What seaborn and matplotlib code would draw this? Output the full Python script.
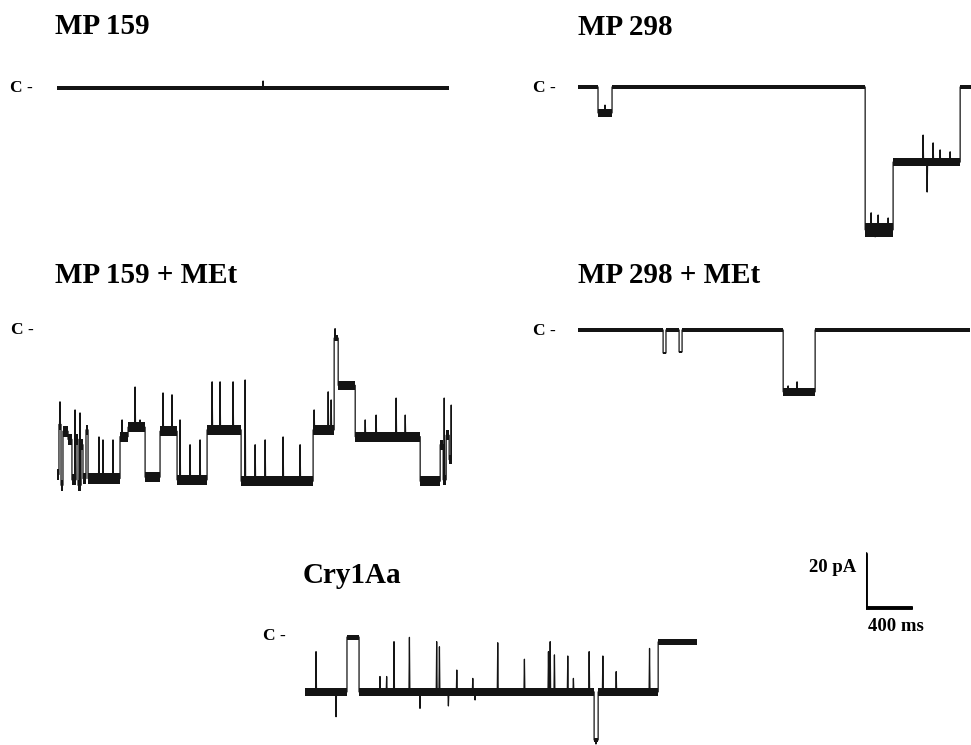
import numpy as np
import pandas as pd
import matplotlib
matplotlib.use("Agg")
import matplotlib.pyplot as plt
import seaborn as sns

sns.set_theme(style="white")
plt.rcParams["font.family"] = ["Liberation Serif", "DejaVu Serif"]
plt.rcParams["text.color"] = "black"

# ---------------- data (time in ms from trace start, current in pA; C = closed = 0) ----------------
trace_names = ["MP 159", "MP 298", "MP 159 + MEt", "MP 298 + MEt", "Cry1Aa"]

# MP 159
mp159_step_t = [0]
mp159_step_i = [0.0]
mp159_noise = [0.8]
mp159_end = 3410
mp159_spike_t = [1792]
mp159_spike_i = [2.6]

# MP 298
mp298_step_t = [0, 174, 296, 2497, 2740, 3323]
mp298_step_i = [0.0, -9.6, 0.0, -52.9, -27.8, 0.0]
mp298_noise = [0.6, 1.5, 0.6, 2.5, 1.5, 0.6]
mp298_end = 3415
mp298_spike_t = [235, 2549, 2584, 2610, 2697, 3001, 3036, 3088, 3149, 3236]
mp298_spike_i = [-6.7, -46.6, -55.5, -47.4, -48.5, -17.8, -38.9, -20.7, -23.3, -24.0]

# MP 159 + MEt
met159_step_t = [0, 17, 35, 52, 96, 130, 165, 183, 209, 226, 252, 270, 548, 618, 766, 896,
                 1044, 1305, 1601, 2227, 2410, 2445, 2593, 3158, 3332, 3358, 3384, 3410]
met159_step_i = [-53.5, -35, -57.5, -37.5, -40.5, -55.5, -40.5, -57.5, -42.5, -55, -37, -55,
                 -39.5, -36, -54.5, -37.5, -55.5, -37, -56, -37, -3, -20.5, -39.5, -56,
                 -42.5, -55.5, -39, -48]
met159_noise = [2.0, 2.0, 2.0, 2.0, 2.0, 2.0, 2.0, 2.0, 2.0, 2.0, 2.0, 2.0, 1.8, 1.8, 1.8,
                1.8, 1.8, 1.8, 1.8, 1.8, 1.0, 1.6, 1.8, 1.8, 1.8, 1.8, 1.8, 1.8]
met159_end = 3436
met159_spike_t = [26, 157, 200, 365, 400, 487, 566, 679, 722, 922, 1000, 1070, 1157, 1244,
                  1349, 1418, 1531, 1636, 1723, 1810, 1966, 2114, 2236, 2358, 2384, 2418,
                  2680, 2775, 2949, 3028, 3367, 3428]
met159_spike_i = [-26.6, -29.6, -30.7, -39.6, -40.7, -40.7, -33.3, -21.1, -33.3, -23.3, -24.0,
                  -33.3, -42.5, -40.7, -19.2, -19.2, -19.2, -18.5, -42.5, -40.7, -39.6, -42.5,
                  -29.6, -22.9, -25.9, 0.5, -33.3, -31.5, -25.2, -31.5, -25.2, -27.8]

# MP 298 + MEt
met298_step_t = [0, 740, 765, 879, 905, 1784, 2062]
met298_step_i = [0.0, -8.5, 0.0, -8.1, 0.0, -22.9, 0.0]
met298_noise = [0.6, 0.5, 0.6, 0.5, 0.6, 1.5, 0.6]
met298_end = 3410
met298_spike_t = [1827, 1905]
met298_spike_i = [-20.7, -19.2]

# Cry1Aa
cry_step_t = [0, 365, 470, 2514, 2549, 3071]
cry_step_i = [-20.7, -0.4, -20.7, -38.5, -20.7, -2.2]
cry_noise = [1.6, 0.9, 1.6, 0.8, 1.6, 1.1]
cry_end = 3410
cry_spike_t = [96, 270, 652, 710, 774, 908, 1000, 1145, 1169, 1247, 1320, 1459, 1479, 1676,
               1908, 2117, 2132, 2169, 2285, 2334, 2471, 2530, 2590, 2706, 2996]
cry_spike_i = [-5.8, -29.9, -15.0, -15.0, -2.1, -0.5, -26.8, -2.1, -4.0, -25.9, -12.6, -15.7,
               -23.7, -2.5, -8.6, -5.8, -2.1, -7.0, -7.4, -15.7, -5.8, -40.0, -7.4, -13.2, -4.6]

scale_ms = 400
scale_pa = 20

# ---------------- layout ----------------
W, H = 971, 745
PX_MS = 0.115   # pixels per ms
PX_PA = 2.7     # pixels per pA

fig = plt.figure(figsize=(W / 100, H / 100), dpi=100)
fig.patch.set_facecolor("white")


def ax_px(x0, yC, t_end, pmin, pmax):
    bottom_img = yC - pmin * PX_PA
    top_img = yC - pmax * PX_PA
    ax = fig.add_axes([x0 / W, 1 - bottom_img / H, t_end * PX_MS / W, (bottom_img - top_img) / H])
    ax.set_xlim(0, t_end)
    ax.set_ylim(pmin, pmax)
    ax.axis("off")
    return ax


def build(step_t, step_i, end, spike_t, spike_i, w=4):
    xs, ys = [], []
    bounds = list(step_t[1:]) + [end]
    for t0, t1, lvl in zip(step_t, bounds, step_i):
        xs.append(t0); ys.append(lvl)
        for st, si in sorted(zip(spike_t, spike_i)):
            if t0 < st < t1:
                xs += [st - w, st, st + w]
                ys += [lvl, si, lvl]
        xs.append(t1); ys.append(lvl)
    return pd.DataFrame({"t": xs, "i": ys})


def draw_trace(x0, yC, step_t, step_i, noise, end, spike_t, spike_i):
    lo = min(min(step_i), min(spike_i)) - 6
    hi = max(max(step_i), max(spike_i)) + 6
    ax = ax_px(x0, yC, end, lo, hi)
    # noise envelope per segment
    tt = list(step_t) + [end]
    upper = [l + n for l, n in zip(step_i, noise)] + [step_i[-1] + noise[-1]]
    lower = [l - n for l, n in zip(step_i, noise)] + [step_i[-1] - noise[-1]]
    ax.fill_between(tt, lower, upper, step="post", color="#141414", linewidth=0)
    df = build(step_t, step_i, end, spike_t, spike_i)
    sns.lineplot(data=df, x="t", y="i", sort=False, estimator=None, color="#141414",
                 linewidth=0.9, ax=ax)
    ax.set_xlim(0, end)
    ax.set_ylim(lo, hi)
    ax.axis("off")
    return ax


draw_trace(57, 88, mp159_step_t, mp159_step_i, mp159_noise, mp159_end, mp159_spike_t, mp159_spike_i)
draw_trace(578, 87, mp298_step_t, mp298_step_i, mp298_noise, mp298_end, mp298_spike_t, mp298_spike_i)
draw_trace(57, 330, met159_step_t, met159_step_i, met159_noise, met159_end, met159_spike_t, met159_spike_i)
draw_trace(578, 330, met298_step_t, met298_step_i, met298_noise, met298_end, met298_spike_t, met298_spike_i)
draw_trace(305, 636, cry_step_t, cry_step_i, cry_noise, cry_end, cry_spike_t, cry_spike_i)

# scale bar
sb = ax_px(866, 608, scale_ms + 10, -3, scale_pa + 3)
sns.lineplot(x=[0, 0, scale_ms], y=[scale_pa, 0, 0], sort=False, estimator=None,
             color="black", linewidth=2.8, ax=sb)
sb.set_xlim(0, scale_ms + 10)
sb.set_ylim(-3, scale_pa + 3)
sb.axis("off")


def ftext(x, y, s, size, ha="left", va="baseline"):
    fig.text(x / W, 1 - y / H, s, fontsize=size, fontweight="bold", ha=ha, va=va,
             color="black", family=["Liberation Serif", "DejaVu Serif"])


title_pos = [(55, 34), (578, 35), (55, 283), (578, 283), (303, 583)]
for name, (x, y) in zip(trace_names, title_pos):
    ftext(x, y, name, 21)

for x, y in [(10, 88), (533, 88), (11, 330), (533, 331), (263, 636)]:
    ftext(x, y, "C -", 12.5, va="center")

ftext(856, 572, f"{scale_pa} pA", 13.5, ha="right")
ftext(868, 631, f"{scale_ms} ms", 13.5)

fig.savefig("out.png", dpi=100, facecolor="white")
